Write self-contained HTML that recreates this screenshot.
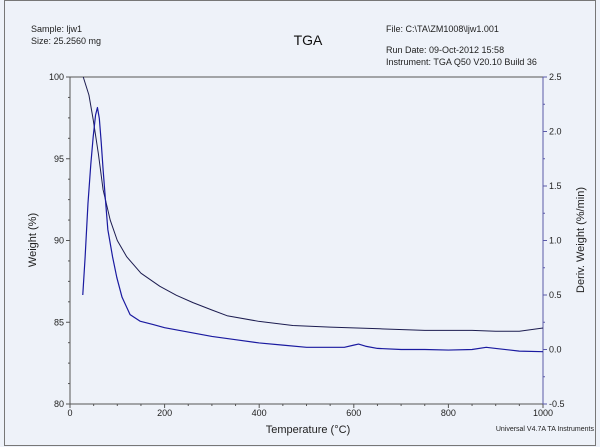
<!DOCTYPE html>
<html><head><meta charset="utf-8"><style>
body{margin:0;background:#fff;}
svg{display:block;font-family:"Liberation Sans",sans-serif;}
</style></head><body>
<svg width="600" height="447" viewBox="0 0 600 447">
<rect x="0" y="0" width="600" height="447" fill="#eef2f9"/>
<rect x="4.5" y="0.5" width="591" height="445" fill="none" stroke="#777"/>
<text x="31" y="32" font-size="9" fill="#222">Sample: ljw1</text>
<text x="31" y="44" font-size="9" fill="#222">Size:  25.2560 mg</text>
<text x="308" y="45" font-size="14" text-anchor="middle" fill="#111">TGA</text>
<text x="386" y="32" font-size="9" fill="#222">File: C:\TA\ZM1008\ljw1.001</text>
<text x="386" y="53" font-size="9" fill="#222">Run Date: 09-Oct-2012 15:58</text>
<text x="386" y="65" font-size="9" fill="#222">Instrument: TGA Q50 V20.10 Build 36</text>
<g id="axes"></g>
<g id="series"></g>
<text x="308" y="433" font-size="11" text-anchor="middle" fill="#222">Temperature (°C)</text>
<text transform="translate(36,240) rotate(-90)" font-size="11" text-anchor="middle" fill="#222">Weight (%)</text>
<text transform="translate(584,240) rotate(-90)" font-size="11" text-anchor="middle" fill="#222">Deriv. Weight (%/min)</text>
<text x="594" y="431" font-size="7" text-anchor="end" fill="#222">Universal V4.7A TA Instruments</text>
</svg>
<script>
const xTicks=[0,200,400,600,800,1000];
const yTicks=[80,85,90,95,100];
const y2Ticks=[-0.5,0.0,0.5,1.0,1.5,2.0,2.5];
const weightT=[28,40,49,60,70,85,100,120,150,190,225,260,300,332,400,471,550,655,750,850,900,950,1000];
const weightV=[100,98.9,97.4,95.3,93.1,91.25,90.0,89.0,88.0,87.2,86.65,86.2,85.75,85.4,85.05,84.8,84.7,84.6,84.5,84.5,84.45,84.45,84.65];
const derivT=[27,32,38,44,49,54,58,62,66,70,75,80,90,99,110,127,148,175,200,250,300,350,400,450,500,550,580,600,610,625,650,700,750,800,850,880,900,950,1000];
const derivV=[0.5,0.85,1.34,1.7,1.95,2.15,2.22,2.12,1.9,1.65,1.37,1.1,0.85,0.66,0.48,0.32,0.26,0.23,0.2,0.16,0.12,0.09,0.06,0.04,0.02,0.02,0.02,0.04,0.05,0.03,0.01,0.0,0.0,-0.005,0.0,0.02,0.01,-0.015,-0.02];
const NS='http://www.w3.org/2000/svg';
const X0=70,X1=543,YT=77,YB=404;
const xs=t=>X0+(t-0)/(1000-0)*(X1-X0);
const ys=v=>YB-(v-80)/(100-80)*(YB-YT);
const y2s=v=>YB-(v+0.5)/(3)*(YB-YT);
const ax=document.getElementById('axes'),se=document.getElementById('series');
function mk(tag,attrs,parent){const e=document.createElementNS(NS,tag);for(const k in attrs)e.setAttribute(k,attrs[k]);parent.appendChild(e);return e;}
let e=mk('line',{x1:X0,y1:YT,x2:X0,y2:YB,stroke:'#555'},ax);

e=mk('line',{x1:X0,y1:YB,x2:X1,y2:YB,stroke:'#555'},ax);

e=mk('line',{x1:X0,y1:YT,x2:X1,y2:YT,stroke:'#555'},ax);

e=mk('line',{x1:X1,y1:YT,x2:X1,y2:YB,stroke:'#5a5aa8'},ax);

for(let t=0;t<=1000;t+=50){const x=xs(t);const big=t%200===0;
 e=mk('line',{x1:x,y1:YB,x2:x,y2:YB+(big?4:2),stroke:'#555'},ax);
 }
xTicks.forEach(t=>{e=mk('text',{x:xs(t),y:YB+12,'font-size':9,'text-anchor':'middle',fill:'#222'},ax);e.textContent=t;
 });
for(let v=80;v<=100;v+=1.25){e=mk('line',{x1:X0-(v%5===0?4:2),y1:ys(v),x2:X0,y2:ys(v),stroke:'#555'},ax);
 }
yTicks.forEach(v=>{e=mk('text',{x:X0-6,y:ys(v)+3,'font-size':9,'text-anchor':'end',fill:'#222'},ax);e.textContent=v;
 });
for(let v=-0.5;v<=2.5001;v+=0.25){const big=Math.abs(v*2-Math.round(v*2))<1e-6;
 e=mk('line',{x1:X1,y1:y2s(v),x2:X1+(big?4:2),y2:y2s(v),stroke:'#5a5aa8'},ax);
 }
y2Ticks.forEach(v=>{e=mk('text',{x:X1+6,y:y2s(v)+3,'font-size':9,fill:'#222'},ax);e.textContent=v.toFixed(1);
 });
e=mk('polyline',{points:weightT.map((t,i)=>xs(t)+','+ys(weightV[i])).join(' '),fill:'none',stroke:'#1c1c50','stroke-width':1,'stroke-linejoin':'round'},se);

e=mk('polyline',{points:derivT.map((t,i)=>xs(t)+','+y2s(derivV[i])).join(' '),fill:'none',stroke:'#1a1aa0','stroke-width':1.2,'stroke-linejoin':'round'},se);

</script>
</body></html>
